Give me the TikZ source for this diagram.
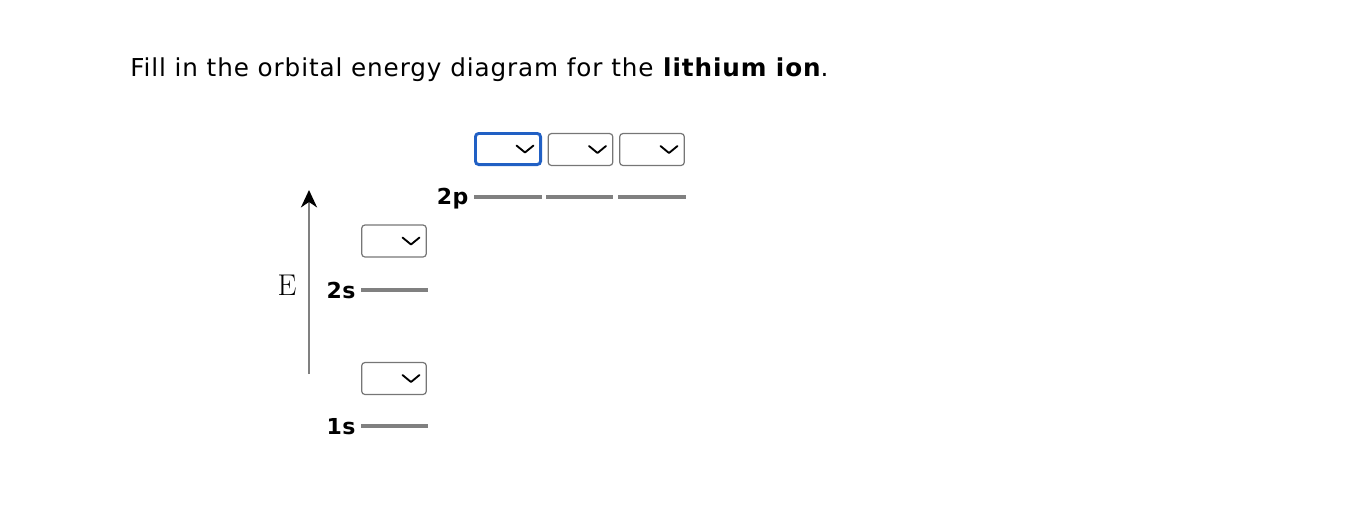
\documentclass[tikz,border=0pt]{standalone}
\usepackage{fontspec}
\setmainfont{DejaVu Sans}
\newfontfamily\eserif{Latin Modern Roman}
\usetikzlibrary{positioning,arrows.meta}
\definecolor{lvlgray}{HTML}{808080}
\definecolor{boxgray}{HTML}{767676}
\definecolor{focusblue}{HTML}{2160C4}
\tikzset{
  orbline/.style={draw=lvlgray, line width=2.5pt},
  orblabel/.style={font=\fontsize{16.5}{16.5}\selectfont\bfseries\addfontfeature{LetterSpace=2}, anchor=east, inner sep=1pt},
  pick/.style={draw=boxgray, line width=0.9pt, rounded corners=2.5pt, minimum width=48.5pt, minimum height=24pt, inner sep=0pt},
  chevron/.style={line width=1.4pt, line cap=round, line join=round}
}
\newcommand{\arrowdown}[1]{%
  \draw[chevron] ([shift={(8.5,-3.5)}]#1.center) -- ++(8.5,7) -- ++(8.5,-7);}
\begin{document}
\begin{tikzpicture}[x=0.75pt,y=-0.75pt]
\useasboundingbox (0,0) rectangle (1354,508);
% Titel
\node[anchor=base west, inner sep=0pt, font=\fontsize{18.5}{18.5}\selectfont\addfontfeature{LetterSpace=3.6}] (title) at (130,76)
  {Fill in the orbital energy diagram for the \textbf{lithium ion}.};
% Energieachse
\coordinate (efoot) at (309,374);
\coordinate (ehead) at (309,190);
\draw[draw=lvlgray, line width=2pt, -{Stealth[length=13pt,width=12pt,inset=4pt,color=black]}] (efoot) -- (ehead);
\node[font=\eserif\fontsize{22.5}{22.5}\selectfont, inner sep=0pt] (E) at (287,285) {E};
% Niveaus
\coordinate (s1a) at (361,426); \coordinate (s1b) at (428,426);
\coordinate (s2a) at (361,290); \coordinate (s2b) at (428,290);
\coordinate (p1a) at (474,197); \coordinate (p1b) at (542,197);
\coordinate (p2a) at (546,197); \coordinate (p2b) at (613,197);
\coordinate (p3a) at (618,197); \coordinate (p3b) at (686,197);
\draw[orbline] (s1a) -- (s1b);
\draw[orbline] (s2a) -- (s2b);
\draw[orbline] (p1a) -- (p1b);
\draw[orbline] (p2a) -- (p2b);
\draw[orbline] (p3a) -- (p3b);
\node[orblabel] (l1s) at (357,426.5) {1s};
\node[orblabel] (l2s) at (357,290.5) {2s};
\node[orblabel] (l2p) at (470,198.5) {2p};
% Auswahlfelder
\node[pick] (b1s) at (394,378.5) {};
\node[pick] (b2s) at (394,241) {};
\node[pick, draw=focusblue, line width=2.2pt, minimum width=48.8pt, minimum height=23.3pt] (bp1) at (508,149) {};
\node[pick] (bp2) at (580.5,149.5) {};
\node[pick] (bp3) at (652,149.5) {};
\arrowdown{b1s}
\arrowdown{b2s}
\arrowdown{bp1}
\arrowdown{bp2}
\arrowdown{bp3}
\end{tikzpicture}
\end{document}
